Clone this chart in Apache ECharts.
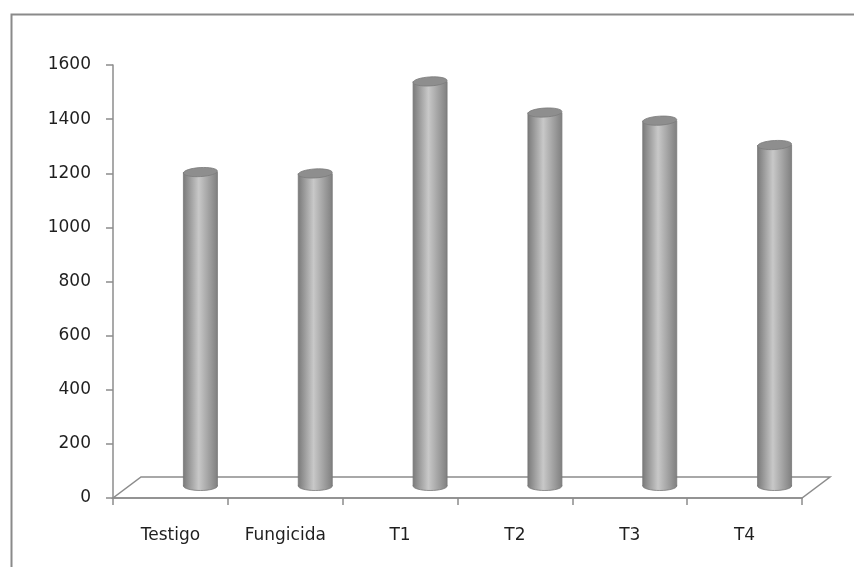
<!DOCTYPE html>
<html>
<head>
<meta charset="utf-8">
<script src="https://cdn.jsdelivr.net/npm/echarts@6/dist/echarts.min.js"></script>
<style>
  html, body { margin: 0; padding: 0; background: #fff; }
  #chart { width: 854px; height: 567px; }
</style>
</head>
<body>
<div id="chart"></div>
<script>
// datos
const categories = ['Testigo', 'Fungicida', 'T1', 'T2', 'T3', 'T4']
const values = [1160, 1155, 1495, 1380, 1350, 1260]
const yTicks = [0, 200, 400, 600, 800, 1000, 1200, 1400, 1600]

const axisColor = '#8c8c8c'
const textColor = '#1f1f1f'
const depthX = 28   // profundidad del piso 3D
const depthY = 21
const barShiftX = 30
const barShiftY = 12
const barW = 34
const capRy = 4.5

const myChart = echarts.init(document.getElementById('chart'))

function renderFloor (params, api) {
  const p0 = api.coord([0, 0])
  const p1 = api.coord([categories.length - 1, 0])
  const band = api.size([1, 0])[0]
  const xl = p0[0] - band / 2
  const xr = p1[0] + band / 2
  const y = p0[1]
  return {
    type: 'polygon',
    shape: {
      points: [[xl, y], [xr, y], [xr + depthX, y - depthY], [xl + depthX, y - depthY]]
    },
    style: { fill: '#fff', stroke: axisColor, lineWidth: 1.5 }
  }
}

function renderCylinder (params, api) {
  const top = api.coord([api.value(0), api.value(1)])
  const base = api.coord([api.value(0), 0])
  const cx = top[0] + barShiftX
  const topY = top[1] - barShiftY
  const botY = base[1] - barShiftY
  const grad = new echarts.graphic.LinearGradient(0, 0, 1, 0, [
    { offset: 0, color: '#7b7b7b' },
    { offset: 0.45, color: '#c8c8c8' },
    { offset: 1, color: '#808080' }
  ])
  return {
    type: 'group',
    children: [
      {
        type: 'ellipse',
        shape: { cx: cx, cy: botY, rx: barW / 2, ry: capRy },
        style: { fill: grad, stroke: '#7a7a7a', lineWidth: 0.8 }
      },
      {
        type: 'rect',
        shape: { x: cx - barW / 2, y: topY, width: barW, height: botY - topY },
        style: { fill: grad, stroke: null }
      },
      {
        type: 'line',
        shape: { x1: cx - barW / 2, y1: topY, x2: cx - barW / 2, y2: botY },
        style: { stroke: '#777', lineWidth: 0.8 }
      },
      {
        type: 'line',
        shape: { x1: cx + barW / 2, y1: topY, x2: cx + barW / 2, y2: botY },
        style: { stroke: '#777', lineWidth: 0.8 }
      },
      {
        type: 'ellipse',
        shape: { cx: cx, cy: topY, rx: barW / 2, ry: capRy },
        rotation: 0.06,
        originX: cx,
        originY: topY,
        style: { fill: '#8e8e8e', stroke: '#7c7c7c', lineWidth: 0.8 }
      }
    ]
  }
}

const option = {
  animation: false,
  backgroundColor: '#fff',
  textStyle: { fontFamily: 'DejaVu Sans' },
  graphic: [
    {
      type: 'rect',
      left: 9,
      top: 12,
      shape: { width: 900, height: 600 },
      style: { fill: 'none', stroke: '#8a8a8a', lineWidth: 2 },
      z: -10
    }
  ],
  grid: {
    left: 113,
    right: 52,
    top: 65,
    bottom: 69
  },
  xAxis: {
    type: 'category',
    data: categories,
    axisLine: { lineStyle: { color: axisColor, width: 1.5 } },
    axisTick: { show: true, length: 7, lineStyle: { color: axisColor, width: 1.5 } },
    axisLabel: { color: textColor, fontSize: 17, margin: 29 },
    splitLine: { show: false },
    z: 5
  },
  yAxis: {
    type: 'value',
    min: yTicks[0],
    max: yTicks[yTicks.length - 1],
    interval: yTicks[1] - yTicks[0],
    axisLine: { show: true, lineStyle: { color: axisColor, width: 1.5 } },
    axisTick: { show: true, length: 7, lineStyle: { color: axisColor, width: 1.5 } },
    axisLabel: {
      color: textColor,
      fontSize: 17,
      margin: 22,
      formatter: function (v) { return String(v) }
    },
    splitLine: { show: false }
  },
  series: [
    {
      type: 'custom',
      renderItem: renderFloor,
      data: [[0, 0]],
      clip: false,
      silent: true,
      z: 1
    },
    {
      type: 'custom',
      renderItem: renderCylinder,
      data: values.map(function (v, i) { return [i, v] }),
      encode: { x: 0, y: 1 },
      clip: false,
      z: 3
    }
  ]
}
myChart.setOption(option)
</script>
</body>
</html>
